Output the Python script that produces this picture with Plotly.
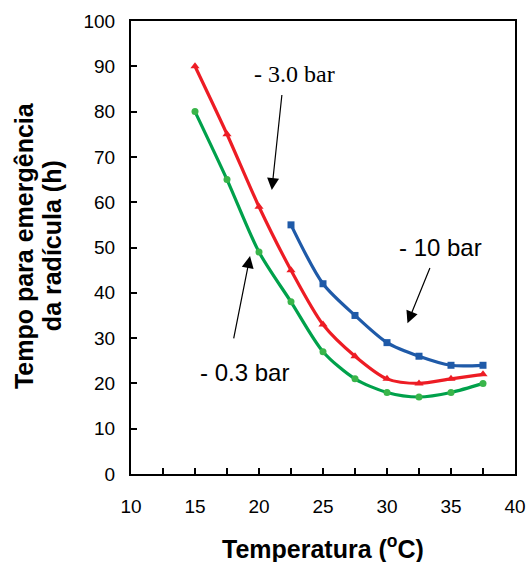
import plotly.graph_objects as go

temps_a = [15, 17.5, 20, 22.5, 25, 27.5, 30, 32.5, 35, 37.5]
green_03 = [80, 65, 49, 38, 27, 21, 18, 17, 18, 20]
red_30 = [90, 75, 59, 45, 33, 26, 21, 20, 21, 22]
temps_b = [22.5, 25, 27.5, 30, 32.5, 35, 37.5]
blue_10 = [55, 42, 35, 29, 26, 24, 24]

x_ticks = [10, 15, 20, 25, 30, 35, 40]
y_ticks = [0, 10, 20, 30, 40, 50, 60, 70, 80, 90, 100]

fig = go.Figure()
fig.add_trace(go.Scatter(x=temps_b, y=blue_10, mode="lines+markers",
                         line=dict(color="#1f5aa8", width=3.2, shape="spline", smoothing=0.8),
                         marker=dict(symbol="square", size=7, color="#1f5aa8")))
fig.add_trace(go.Scatter(x=temps_a, y=red_30, mode="lines+markers",
                         line=dict(color="#ed1c24", width=3.2, shape="spline", smoothing=0.8),
                         marker=dict(symbol="triangle-up", size=8, color="#ed1c24")))
fig.add_trace(go.Scatter(x=temps_a, y=green_03, mode="lines+markers",
                         line=dict(color="#00a14b", width=3.2, shape="spline", smoothing=0.8),
                         marker=dict(symbol="circle", size=7, color="#39b54a")))

axis_common = dict(showgrid=False, zeroline=False, showline=True, linecolor="black",
                   linewidth=2, mirror=True, ticks="inside", tickcolor="black",
                   ticklen=6, tickwidth=1.5, automargin=False,
                   tickfont=dict(family="Liberation Sans, Arial", size=19, color="black"))

fig.update_xaxes(range=[10, 40], tickvals=x_ticks, ticklabelstandoff=14, **axis_common,
                 minor=dict(dtick=2.5, ticks="inside", ticklen=6, tickwidth=1.5, tickcolor="black"))
fig.update_yaxes(range=[0, 100], tickvals=y_ticks, ticklabelstandoff=10, **axis_common)

fig.add_annotation(x=21.0, y=62.7, ax=21.8, ay=84, axref="x", ayref="y", xref="x", yref="y",
                   showarrow=True, arrowhead=2, arrowsize=2, arrowwidth=1.2, arrowcolor="black", text="")
fig.add_annotation(x=22.8, y=88.3, text="- 3.0 bar", showarrow=False,
                   font=dict(family="Liberation Serif, Times New Roman", size=24, color="black"))

fig.add_annotation(x=31.6, y=33.3, ax=33.4, ay=45.8, axref="x", ayref="y", xref="x", yref="y",
                   showarrow=True, arrowhead=2, arrowsize=2, arrowwidth=1.2, arrowcolor="black", text="")
fig.add_annotation(x=34.2, y=49.9, text="- 10 bar", showarrow=False,
                   font=dict(family="Liberation Sans, Arial", size=24, color="black"))

fig.add_annotation(x=19.3, y=48.1, ax=18.0, ay=29.6, axref="x", ayref="y", xref="x", yref="y",
                   showarrow=True, arrowhead=2, arrowsize=2, arrowwidth=1.2, arrowcolor="black", text="")
fig.add_annotation(x=18.9, y=22.4, text="- 0.3 bar", showarrow=False,
                   font=dict(family="Liberation Sans, Arial", size=24, color="black"))

fig.add_annotation(x=0.5, xref="paper", y=-0.162, yref="paper", yanchor="middle",
                   text="<b>Temperatura (<sup>o</sup>C)</b>", showarrow=False,
                   font=dict(family="Liberation Sans, Arial", size=25, color="black"))
fig.add_annotation(x=-0.279, xref="paper", y=0.505, yref="paper", xanchor="center", yanchor="middle",
                   textangle=-90, text="<b>Tempo para emergência</b>", showarrow=False,
                   font=dict(family="Liberation Sans, Arial", size=25, color="black"))
fig.add_annotation(x=-0.206, xref="paper", y=0.505, yref="paper", xanchor="center", yanchor="middle",
                   textangle=-90, text="<b>da radícula (h)</b>", showarrow=False,
                   font=dict(family="Liberation Sans, Arial", size=25, color="black"))

fig.update_layout(width=528, height=562, showlegend=False,
                  margin=dict(l=131, r=13, t=21, b=88),
                  plot_bgcolor="white", paper_bgcolor="white")

fig.write_html("out.html")
